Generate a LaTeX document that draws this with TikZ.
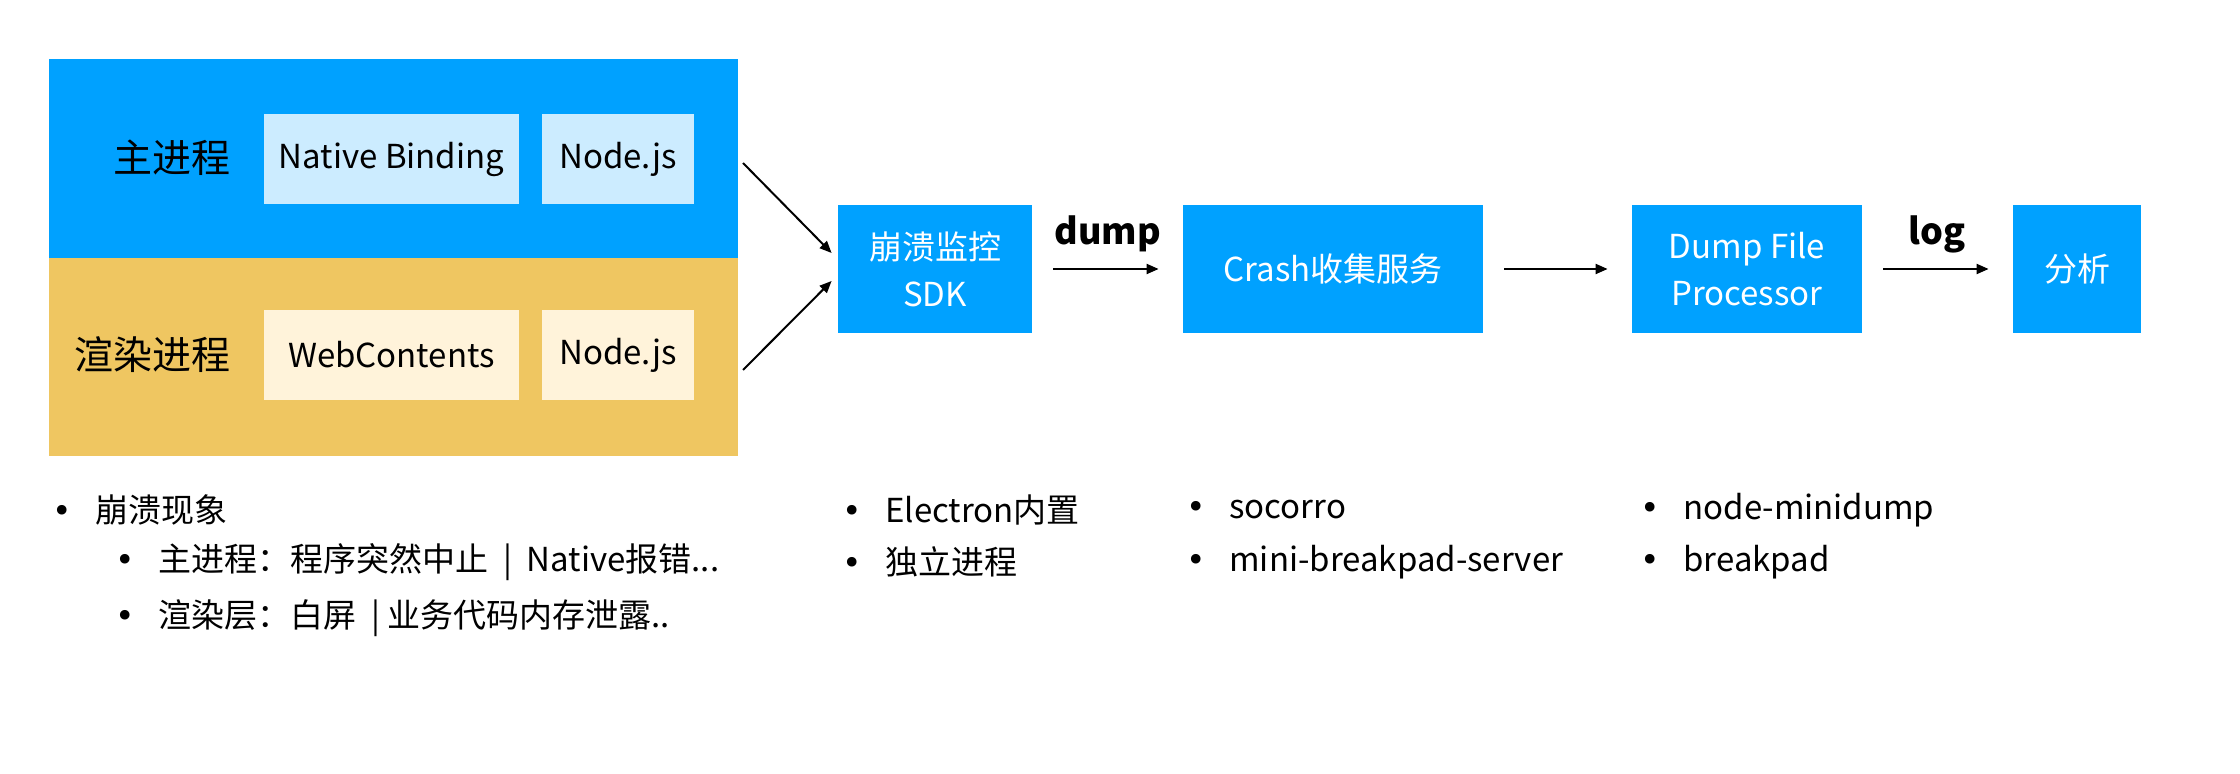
\documentclass[tikz,border=0pt]{standalone}
\usepackage{fontspec}
\setmainfont{Noto Sans CJK SC}
\newfontfamily\dotfont{DejaVu Sans}
\usetikzlibrary{arrows.meta,positioning}
\definecolor{procblue}{RGB}{0,161,255}
\definecolor{rendertan}{RGB}{239,198,97}
\definecolor{partblue}{RGB}{204,236,255}
\definecolor{parttan}{RGB}{255,243,218}
\newcommand\bul{\makebox[21.5pt][l]{\dotfont •}}
\tikzset{
  region/.style={rectangle, inner sep=0pt, minimum width=344.5pt, minimum height=99.5pt},
  part/.style={rectangle, inner sep=0pt, minimum height=45pt, font=\fontsize{16.5}{20}\selectfont},
  proclabel/.style={anchor=east, inner sep=0pt, font=\fontsize{19.5}{22}\selectfont},
  stage/.style={rectangle, fill=procblue, text=white, align=center, inner sep=0pt, minimum height=64pt, font=\fontsize{16.5}{23.5}\selectfont},
  flow/.style={-{Triangle[length=6pt,width=5pt]}, line width=1pt},
  flowlabel/.style={midway, yshift=17.5pt, font=\fontsize{18}{20}\selectfont\bfseries},
  item/.style={anchor=west, inner sep=0pt, font=\fontsize{16.5}{20}\selectfont}
}

\begin{document}
\begin{tikzpicture}[x=0.5pt, y=-0.5pt]
    \useasboundingbox (0,0) rectangle (2240,774);
    \node[region, fill=procblue] (main) at (393.5,158.5) {};
    \node[region, fill=rendertan, minimum height=99pt] (render) at (393.5,357) {};
    \node[part, fill=partblue, minimum width=127.5pt] (native) at (391.5,159) {Native Binding};
    \node[part, fill=partblue, minimum width=76pt] (mainnode) at (618,159) {Node.js};
    \node[part, fill=parttan, minimum width=127.5pt] (web) at (391.5,355) {WebContents};
    \node[part, fill=parttan, minimum width=76pt] (rendernode) at (618,355) {Node.js};
    \node[proclabel] (mainlabel) at (231,158) {主进程};
    \node[proclabel] (renderlabel) at (231,355) {渲染进程};

    \node[stage, minimum width=97pt] (sdk) at (935,269) {崩溃监控\\SDK};
    \node[stage, minimum width=150pt] (crash) at (1333,269) {Crash收集服务};
    \node[stage, minimum width=115pt] (proc) at (1747,269) {Dump File\\Processor};
    \node[stage, minimum width=64pt] (analyse) at (2077,269) {分析};

    \coordinate (mainout) at (743,163);
    \coordinate (renderout) at (743,370);
    \draw[flow] (mainout) -- ([shift={(-6,-16)}]sdk.west);
    \draw[flow] (renderout) -- ([shift={(-6,12)}]sdk.west);
    \draw[flow, shorten <=10.5pt, shorten >=12pt] (sdk) -- node[flowlabel] {dump} (crash);
    \draw[flow, shorten <=10.5pt, shorten >=12pt] (crash) -- (proc);
    \draw[flow, shorten <=10.5pt, shorten >=12pt] (proc) -- node[flowlabel] {log} (analyse);

    \node[item] (phen) at (52,510) {\bul 崩溃现象};
    \node[item] (phenmain) at (115,562) {\bul 主进程：程序突然中止\ \ |\ \ Native报错...};
    \node[item] (phenrender) at (115,618) {\bul 渲染层：白屏\ \ |\ 业务代码内存泄露..};
    \node[item] (sdkin) at (842,510) {\bul Electron内置};
    \node[item] (sdkalone) at (842,562) {\bul 独立进程};
    \node[item] (socorro) at (1186,510) {\bul socorro};
    \node[item] (minibp) at (1186,562) {\bul mini-breakpad-server};
    \node[item] (minidump) at (1640,510) {\bul node-minidump};
    \node[item] (breakpad) at (1640,562) {\bul breakpad};
\end{tikzpicture}
\end{document}
